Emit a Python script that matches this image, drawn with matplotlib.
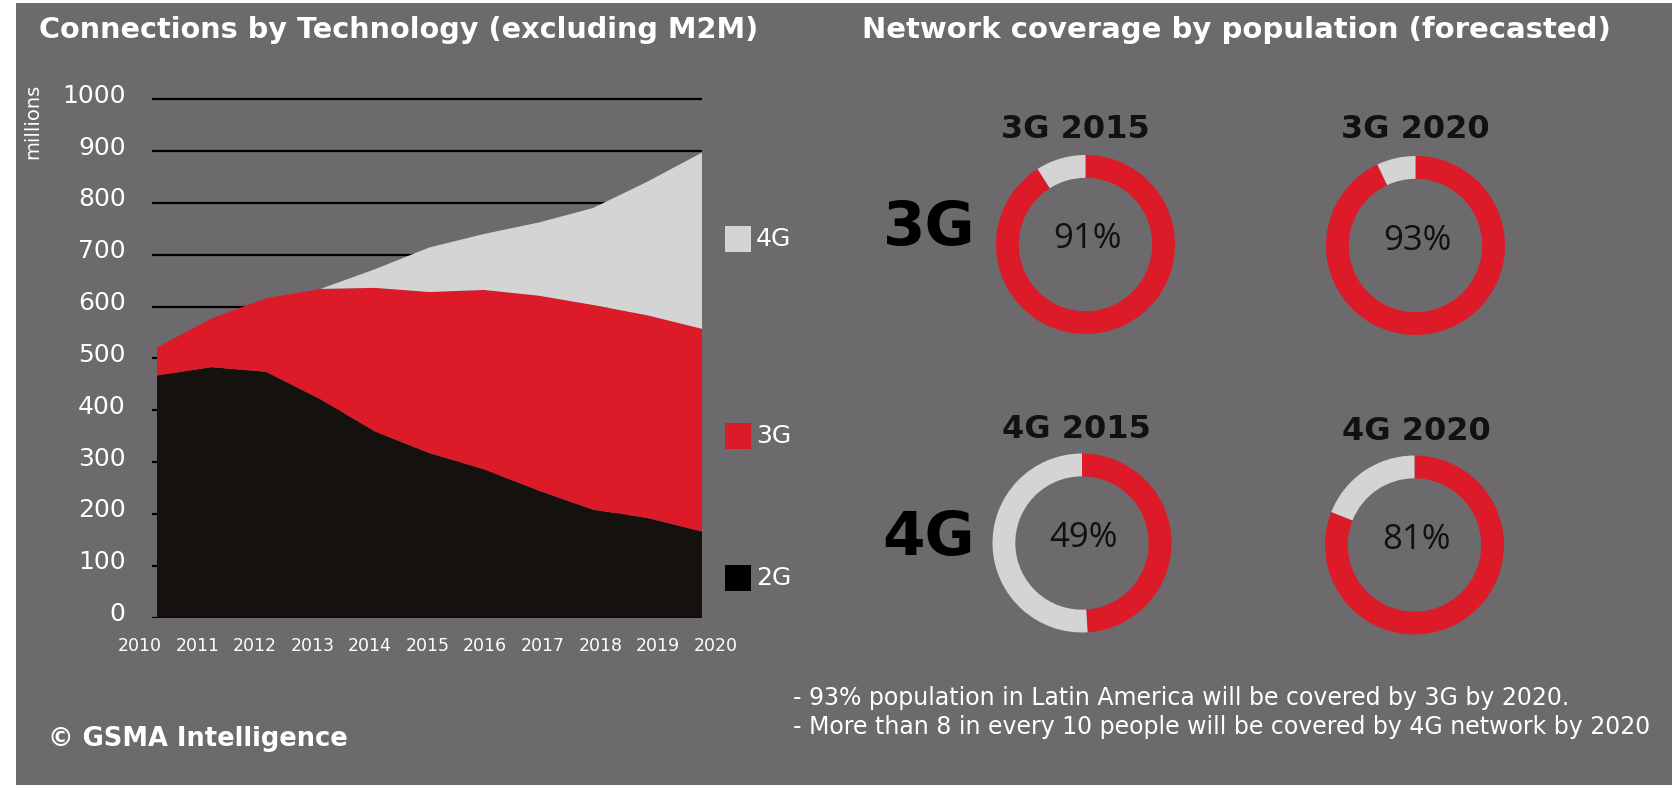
import matplotlib
matplotlib.use("Agg")
import matplotlib.pyplot as plt
from matplotlib.patches import Rectangle
from matplotlib.transforms import ScaledTranslation

# ---------------- data ----------------
years = [2010, 2011, 2012, 2013, 2014, 2015, 2016, 2017, 2018, 2019, 2020]
conn_2g = [467, 483, 474, 421, 359, 317, 286, 245, 208, 192, 166]
conn_3g = [54, 94, 142, 213, 277, 311, 346, 376, 395, 391, 391]
conn_4g = [0, 0, 0, 0, 36, 86, 108, 141, 187, 258, 340]
y_ticks = [0, 100, 200, 300, 400, 500, 600, 700, 800, 900, 1000]
tech_labels = ["2G", "3G", "4G"]

donut_titles = ["3G 2015", "3G 2020", "4G 2015", "4G 2020"]
donut_values = [91, 93, 49, 81]
row_labels = ["3G", "4G"]

notes = ["- 93% population in Latin America will be covered by 3G by 2020.",
         "- More than 8 in every 10 people will be covered by 4G network by 2020"]

# ---------------- style ----------------
BG = "#6d6a6e"
RED = "#dc1a28"
LGRAY = "#d4d4d4"
BLACK = "#14110e"
WHITE = "white"

W, H = 1672, 785
fig = plt.figure(figsize=(W / 100, H / 100), dpi=100, facecolor="white")


def fx(px):
    return px / W


def fy(py):
    return 1 - py / H


fig.add_artist(Rectangle((fx(16), 0), 1 - fx(16), fy(3), transform=fig.transFigure,
                         facecolor=BG, edgecolor="none", zorder=-10))

# ---------------- left: stacked area ----------------
y_top = 1010
ax_l, ax_r, ax_b = 152, 702, 617.5
px_per_unit = (617.5 - 99.2) / 1000
ax_t = ax_b - y_top * px_per_unit
ax = fig.add_axes([fx(ax_l), fy(ax_b), (ax_r - ax_l) / W, (ax_b - ax_t) / H])
ax.set_facecolor("none")
for s in ax.spines.values():
    s.set_visible(False)
x0 = 2010 - (157 - ax_l) / ((ax_r - 157) / 10)
ax.set_xlim(x0, 2020)
ax.set_ylim(0, y_top)
ax.stackplot(years, conn_2g, conn_3g, conn_4g, colors=[BLACK, RED, LGRAY],
             linewidth=0, zorder=2)
ax.set_yticks(y_ticks)
ax.set_yticklabels([str(v) for v in y_ticks])
ax.yaxis.grid(True, color="black", linewidth=1.6, zorder=0)
ax.set_axisbelow(True)
ax.tick_params(axis="y", length=0, pad=19, labelsize=18, labelcolor=WHITE)
ax.set_xticks([])
for lab in ax.get_yticklabels():
    lab.set_transform(lab.get_transform() + ScaledTranslation(0, 6 / 100, fig.dpi_scale_trans))

# x labels on a helper axes (labels spaced wider than the data)
lx_l, lx_r = 120, 740
px_per_year = (715.5 - 139.7) / 10
axx = fig.add_axes([fx(lx_l), fy(ax_b), (lx_r - lx_l) / W, 0.0001])
axx.set_facecolor("none")
for s in axx.spines.values():
    s.set_visible(False)
axx.set_xlim(2010 + (lx_l - 139.7) / px_per_year, 2010 + (lx_r - 139.7) / px_per_year)
axx.set_yticks([])
axx.set_xticks(years)
axx.set_xticklabels([str(y) for y in years])
axx.tick_params(axis="x", length=0, pad=14, labelsize=12.5, labelcolor=WHITE)

fig.text(fx(33), fy(121), "millions", rotation=90, ha="center", va="center",
         color=WHITE, fontsize=14)

fig.text(fx(39), fy(30), "Connections by Technology (excluding M2M)", ha="left", va="center",
         color=WHITE, fontsize=20.7, fontweight="bold")

# legend
leg_y = {"4G": 239, "3G": 436, "2G": 578}
leg_col = {"4G": LGRAY, "3G": RED, "2G": "black"}
for t in tech_labels:
    cy = leg_y[t]
    fig.add_artist(Rectangle((fx(725), fy(cy + 13)), 26 / W, 26 / H, transform=fig.transFigure,
                             facecolor=leg_col[t], edgecolor="none"))
    fig.text(fx(756), fy(cy), t, ha="left", va="center", color=WHITE, fontsize=18)

fig.text(fx(48), fy(739), "\u00a9 GSMA Intelligence", ha="left", va="center",
         color=WHITE, fontsize=18.5, fontweight="bold")

# ---------------- right: donuts ----------------
fig.text(fx(862), fy(30), "Network coverage by population (forecasted)", ha="left", va="center",
         color=WHITE, fontsize=21, fontweight="bold")

centers = [(1085.5, 244.5), (1415.5, 245.5), (1082, 543), (1414.5, 545)]
title_pos = [(1075, 129), (1415, 129), (1076, 429), (1416, 431)]
R = 89.5
for (cx, cy), (tx, ty), title, val in zip(centers, title_pos, donut_titles, donut_values):
    dax = fig.add_axes([fx(cx - R), fy(cy + R), 2 * R / W, 2 * R / H])
    dax.pie([val, 100 - val], colors=[RED, LGRAY], startangle=90, counterclock=False,
            radius=1, wedgeprops=dict(width=0.255, linewidth=0))
    dax.set_xlim(-1, 1)
    dax.set_ylim(-1, 1)
    dax.set_aspect("equal")
    dax.axis("off")
    fig.text(fx(cx + 2), fy(cy - 5), f"{val}%", ha="center", va="center",
             color="#111111", fontsize=25, family="Open Sans", fontweight="medium")
    fig.text(fx(tx), fy(ty), title, ha="center", va="center",
             color="#111111", fontsize=23, fontweight="bold")

fig.text(fx(929), fy(229), row_labels[0], ha="center", va="center", color="black",
         fontsize=44, fontweight="bold")
fig.text(fx(929), fy(538), row_labels[1], ha="center", va="center", color="black",
         fontsize=44, fontweight="bold")

for i, line in enumerate(notes):
    fig.text(fx(793), fy(698 + 29 * i), line, ha="left", va="center",
             color=WHITE, fontsize=17)

fig.savefig("out.png", dpi=100, facecolor=fig.get_facecolor())
